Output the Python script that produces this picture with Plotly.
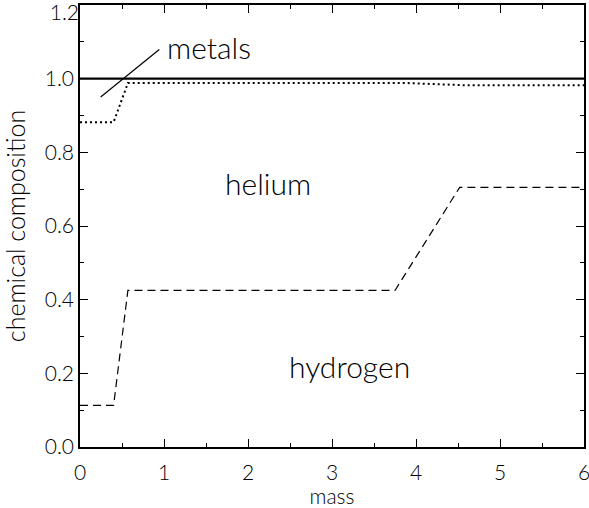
import plotly.graph_objects as go

# cumulative chemical composition vs mass
mass_h = [0.0, 0.40, 0.57, 3.75, 4.52, 6.0]
hydrogen = [0.113, 0.113, 0.425, 0.425, 0.705, 0.705]

mass_he = [0.0, 0.40, 0.57, 3.9, 4.6, 6.0]
hydrogen_helium = [0.882, 0.882, 0.988, 0.988, 0.982, 0.982]

mass_total = [0.0, 6.0]
total = [1.0, 1.0]

metals_pointer_x = [0.246, 0.944]
metals_pointer_y = [0.950, 1.079]

labels = [("metals", 1.01, 1.087), ("helium", 2.24, 0.716), ("hydrogen", 3.21, 0.219)]

x_ticks = [0, 1, 2, 3, 4, 5, 6]
y_ticks = [0.0, 0.2, 0.4, 0.6, 0.8, 1.0, 1.2]
y_top_tick = [1.2]

FONT = "Lato, Liberation Sans, Arial"
Y_RANGE = [0, 1.2]

fig = go.Figure()
fig.add_trace(go.Scatter(x=mass_h, y=hydrogen, mode="lines",
                         line=dict(color="black", width=1.2, dash="8px,5px")))
fig.add_trace(go.Scatter(x=mass_he, y=hydrogen_helium, mode="lines",
                         line=dict(color="black", width=2, dash="2px,3px")))
fig.add_trace(go.Scatter(x=mass_total, y=total, mode="lines", yaxis="y2",
                         line=dict(color="black", width=2.2)))
fig.add_trace(go.Scatter(x=metals_pointer_x, y=metals_pointer_y, mode="lines",
                         line=dict(color="black", width=1.2)))

for text, x, y in labels:
    fig.add_annotation(x=x, y=y, text=text, showarrow=False,
                       xanchor="left" if text == "metals" else "center",
                       font=dict(family=FONT, size=30, color="black", weight=300))

tick_font = dict(family=FONT, size=21, color="black", weight=300)
axis_common = dict(showgrid=False, zeroline=False, showline=True, linecolor="black",
                   linewidth=1.5, mirror="ticks", ticks="inside", ticklen=8,
                   tickwidth=1.2, tickcolor="black", tickfont=tick_font, automargin=False,
                   ticklabeloverflow="allow")

fig.update_layout(
    xaxis=dict(range=[0, 6], tickvals=x_ticks, ticktext=[str(v) for v in x_ticks],
               minor=dict(dtick=0.5, ticks="inside", ticklen=4, tickcolor="black", tickwidth=1.2),
               ticklabelstandoff=6,
               title=dict(text="mass", font=dict(family=FONT, size=21, color="black", weight=300),
                          standoff=2),
               **axis_common),
    yaxis=dict(range=Y_RANGE, tickvals=y_ticks,
               ticktext=[f"{v:.1f}" if v < 1.2 else "" for v in y_ticks],
               minor=dict(dtick=0.1, ticks="inside", ticklen=4, tickcolor="black", tickwidth=1.2),
               title=dict(text="chemical composition",
                          font=dict(family=FONT, size=25, color="black", weight=300),
                          standoff=14),
               **axis_common),
    # top label kept inside the page, nudged down below the frame corner
    yaxis2=dict(range=Y_RANGE, overlaying="y", side="left", showgrid=False, zeroline=False,
                showline=False, ticks="", tickvals=y_top_tick, automargin=False,
                ticktext=[f"{v:.1f}" for v in y_top_tick], tickfont=tick_font,
                ticklabelshift=8, ticklabeloverflow="allow"),
    width=589, height=508, showlegend=False,
    plot_bgcolor="white", paper_bgcolor="white",
    margin=dict(l=80, r=5, t=5, b=61, autoexpand=False),
)

fig.write_html("out.html")
